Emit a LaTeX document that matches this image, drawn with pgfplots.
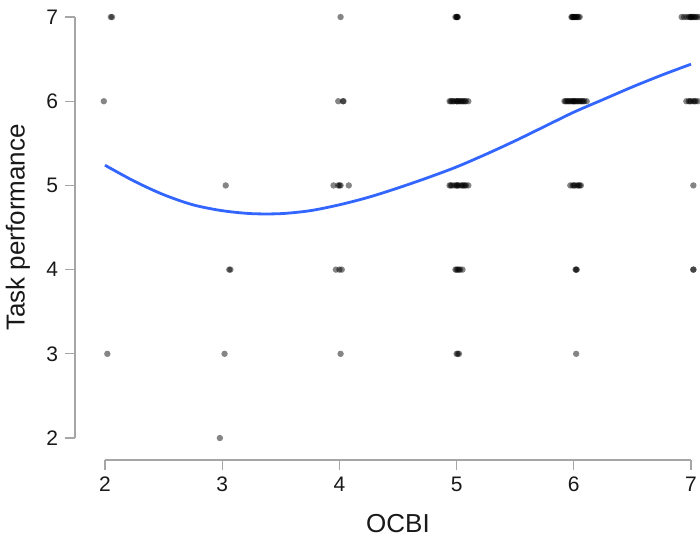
\documentclass[border=0pt]{standalone}
\usepackage{pgfplots}
\pgfplotsset{compat=1.18}
\usepackage{fontspec}
\setmainfont{Liberation Sans}
\definecolor{fitblue}{HTML}{3366FF}
\definecolor{axgray}{HTML}{A6A6A6}
\begin{document}
\begin{tikzpicture}
\useasboundingbox (-37.5pt,-40pt) rectangle (312.5pt,230pt);
\begin{axis}[
  at={(0,0)}, anchor=south west,
  scale only axis,
  width=312.4pt, height=229.9pt,
  xmin=1.744, xmax=7.075,
  ymin=1.739, ymax=7.2,
  xtick={2,3,4,5,6,7}, ytick={2,3,4,5,6,7},
  axis x line*=bottom, axis y line*=left,
  axis line style={draw=none},
  tick align=outside,
  major tick length=5pt,
  tick style={axgray, line width=0.6pt},
  ticklabel style={font=\fontsize{10.5}{12}\selectfont, text=black!90},
  /pgf/number format/assume math mode=true,
  xlabel={OCBI}, ylabel={Task performance},
  label style={font=\fontsize{13}{15}\selectfont, text=black!90},
  xlabel style={at={(rel axis cs:0.517,0)}, anchor=center, yshift=-32pt},
  ylabel style={at={(rel axis cs:0,0.5056)}, anchor=center, yshift=28.5pt},
  clip mode=individual,
]
% detached axis lines
\draw[axgray, line width=0.6pt] (axis cs:2,1.739) -- (axis cs:7,1.739);
\draw[axgray, line width=0.6pt] (axis cs:1.744,2) -- (axis cs:1.744,7);

% jittered observations
\addplot[only marks, mark=*, mark size=1.6pt,
  mark options={draw=black, fill=black, draw opacity=0, fill opacity=0.48}] coordinates {
  (2.05,7) (2.06,7) (4.01,7)
  (4.99,7) (5.00,7) (5.01,7) (5.00,7) (5.005,7)
  (5.98,7) (5.99,7) (6.00,7) (6.01,7) (6.02,7) (6.03,7) (6.04,7) (6.05,7) (6.00,7) (6.02,7) (5.985,7)
  (6.92,7) (6.94,7) (6.96,7) (6.98,7) (7.00,7) (7.01,7) (7.03,7) (7.05,7) (7.07,7) (7.00,7) (6.99,7) (7.02,7) (7.04,7)
  (1.99,6) (3.99,6) (4.03,6) (4.035,6)
  (4.94,6) (4.95,6) (4.97,6) (4.98,6) (5.00,6) (5.01,6) (5.03,6) (5.05,6) (5.06,6) (5.08,6) (5.10,6) (5.00,6) (4.96,6) (5.02,6) (5.04,6) (5.07,6)
  (5.92,6) (5.93,6) (5.95,6) (5.96,6) (5.98,6) (5.99,6) (6.00,6) (6.01,6) (6.03,6) (6.04,6) (6.06,6) (6.07,6) (6.09,6) (6.11,6) (6.00,6) (5.94,6) (5.97,6) (6.02,6) (6.05,6) (6.08,6)
  (6.96,6) (6.98,6) (7.00,6) (7.02,6) (7.04,6) (7.06,6) (7.08,6) (6.99,6) (7.03,6)
  (3.03,5) (3.95,5) (3.99,5) (4.00,5) (4.01,5) (4.08,5)
  (4.94,5) (4.96,5) (4.98,5) (5.00,5) (5.02,5) (5.04,5) (5.06,5) (5.08,5) (5.10,5) (5.00,5) (4.95,5) (5.01,5) (5.05,5) (5.07,5)
  (5.97,5) (5.99,5) (6.01,5) (6.03,5) (6.05,5) (6.06,5) (6.00,5) (6.04,5)
  (7.02,5)
  (3.06,4) (3.07,4) (3.97,4) (4.00,4) (4.02,4)
  (4.99,4) (5.01,4) (5.03,4) (5.05,4) (5.00,4) (5.02,4)
  (6.02,4) (6.015,4) (6.025,4) (7.02,4) (7.02,4)
  (2.02,3) (3.02,3) (4.01,3) (5.00,3) (5.01,3) (5.02,3) (6.02,3)
  (2.98,2)
};

% smooth fit
\addplot[fitblue, line width=1.4pt, smooth, no marks] coordinates {
  (2,5.24) (2.25,5.05) (2.5,4.89) (2.75,4.77) (3,4.70) (3.25,4.665) (3.5,4.665)
  (3.75,4.70) (4,4.77) (4.25,4.86) (4.5,4.97) (4.75,5.09) (5,5.22) (5.25,5.37)
  (5.5,5.53) (5.75,5.70) (6,5.87) (6.25,6.02) (6.5,6.17) (6.75,6.31) (7,6.44)
};
\end{axis}
\end{tikzpicture}
\end{document}
